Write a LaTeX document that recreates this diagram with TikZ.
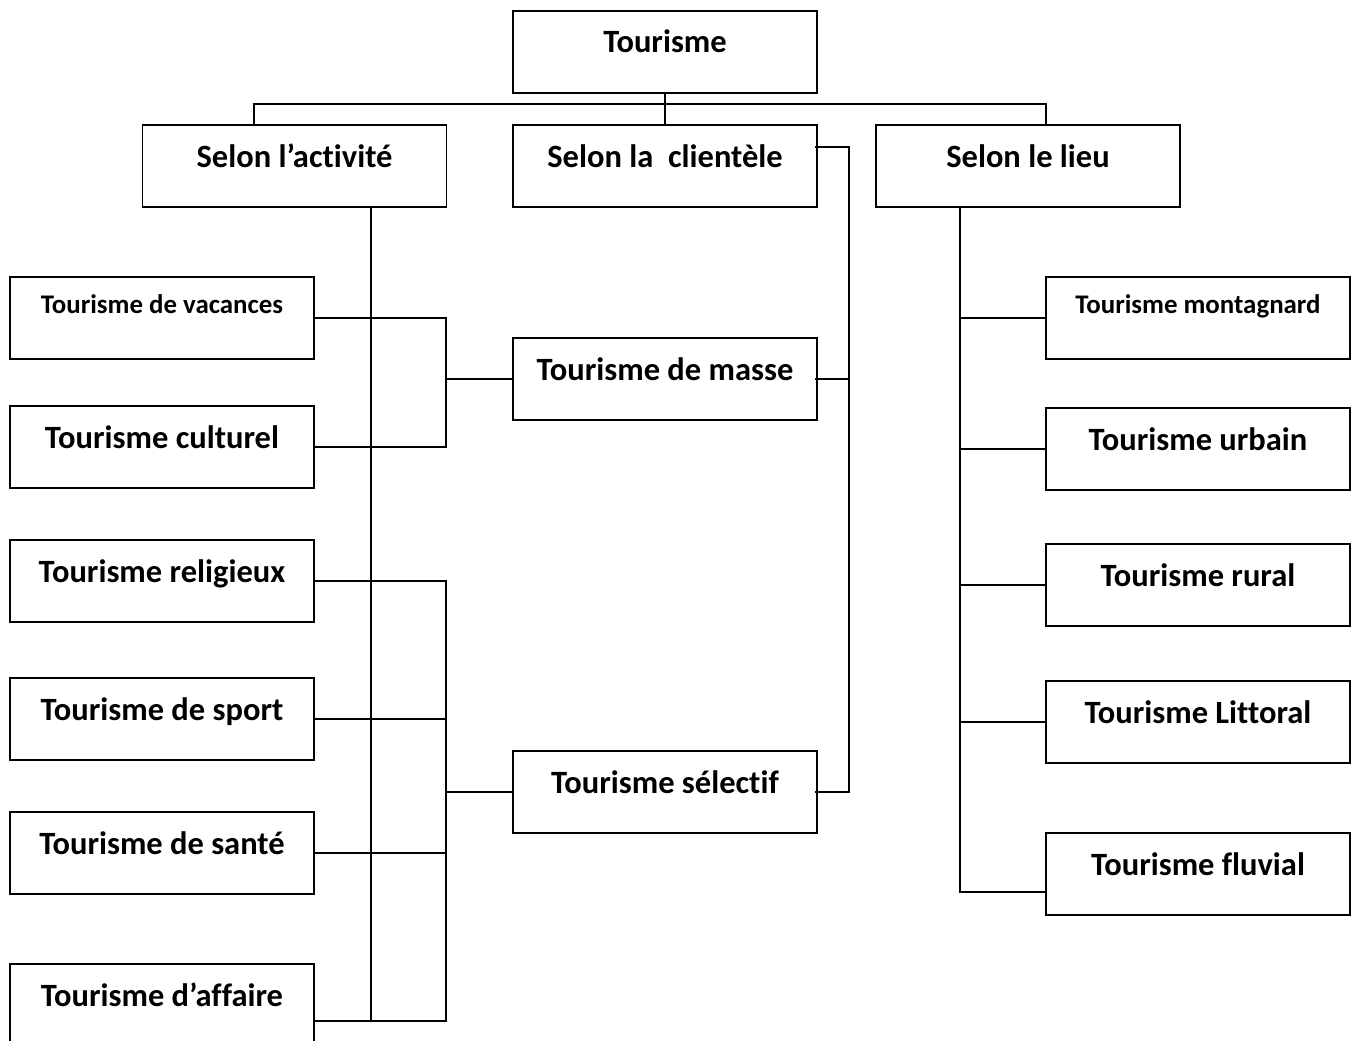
\documentclass[tikz,border=0pt]{standalone}
\usepackage{fontspec}
\setmainfont{Carlito}[Ligatures=NoCommon]
\usepackage{tikz}
\usetikzlibrary{positioning}

\begin{document}
\begin{tikzpicture}[x=0.02cm, y=-0.02cm, line width=1pt,
    box/.style   = {draw, minimum width=6.08cm, inner sep=0pt,
                    text height=0.84cm, text depth=0.8cm,
                    font=\fontsize{18.5}{20}\selectfont\bfseries},
    smallbox/.style = {box, text height=0.72cm, text depth=0.92cm,
                    font=\fontsize{15.3}{17}\selectfont\bfseries}]
  \useasboundingbox (0,0) rectangle (1357,1041);

  % top levels
  \node[box] (top)   at (665,52)    {Tourisme};
  \node[box] (act)   at (294.5,166) {Selon l’activité};
  \node[box] (clien) at (665,166)   {Selon la \ clientèle};
  \node[box] (lieu)  at (1028,166)  {Selon le lieu};

  % left column
  \node[smallbox] (vac) at (162,318)  {Tourisme de vacances};
  \node[box] (cul) at (162,447)  {Tourisme culturel};
  \node[box] (rel) at (162,581)  {Tourisme religieux};
  \node[box] (spo) at (162,719)  {Tourisme de sport};
  \node[box] (san) at (162,853)  {Tourisme de santé};
  \node[box] (aff) at (162,1005) {Tourisme d’affaire};

  % middle column
  \node[box] (masse) at (665,379) {Tourisme de masse};
  \node[box] (sel)   at (665,792) {Tourisme sélectif};

  % right column
  \node[smallbox] (mon) at (1198,318) {Tourisme montagnard};
  \node[box] (urb) at (1198,449) {Tourisme urbain};
  \node[box] (rur) at (1198,585) {Tourisme rural};
  \node[box] (lit) at (1198,722) {Tourisme Littoral};
  \node[box] (flu) at (1198,874) {Tourisme fluvial};

  \coordinate (atrunk) at (371,0);
  \coordinate (mbus)   at (446,0);
  \coordinate (cbus)   at (849,0);
  \coordinate (ltrunk) at (960,0);

  % tree on top
  \draw (top.south) -- (clien.north);
  \draw ([xshift=-0.81cm]act.north) -- ++(0,-20) -| ([xshift=0.36cm]lieu.north);

  % selon l'activite
  \draw (atrunk |- act.south) -- ([yshift=-0.32cm]atrunk |- aff.east);
  \draw (vac.east) -| (mbus |- cul.east) -- (cul.east);
  \draw (mbus |- masse.west) -- (masse.west);
  \draw (rel.east) -| ([yshift=-0.32cm]mbus |- aff.east) -- ([yshift=-0.32cm]aff.east);
  \foreach \n in {spo, san}
    \draw (\n.east) -- (mbus |- \n.east);
  \draw (mbus |- sel.west) -- (sel.west);

  % selon la clientele
  \draw ([shift={(-3,-19)}]clien.east) -| (cbus |- sel.east) -- ([xshift=-0.06cm]sel.east);
  \draw (cbus |- masse.east) -- ([xshift=-0.06cm]masse.east);

  % selon le lieu
  \draw (ltrunk |- lieu.south) -- ([yshift=-0.36cm]ltrunk |- flu.west) -- ([yshift=-0.36cm]flu.west);
  \foreach \n in {mon, urb, rur, lit}
    \draw (ltrunk |- \n.west) -- (\n.west);
\end{tikzpicture}
\end{document}
